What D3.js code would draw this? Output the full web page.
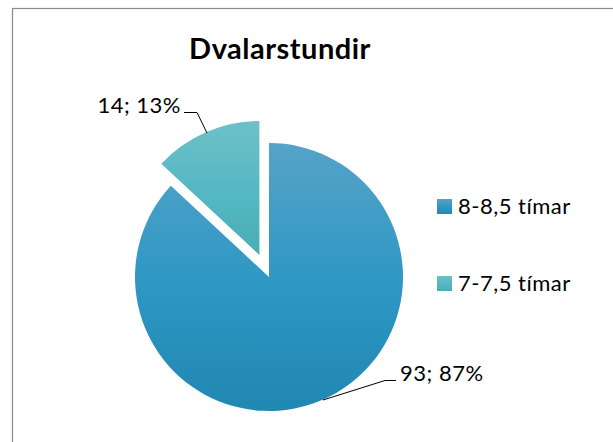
<!DOCTYPE html>
<html><head><meta charset="utf-8">
<script src="https://cdn.jsdelivr.net/npm/d3@7/dist/d3.min.js"></script>
<style>html,body{margin:0;padding:0;background:#fff;}svg{display:block;}</style>
</head><body>
<svg id="c" width="613" height="442"></svg>
<script>
const title = "Dvalarstundir";
const categories = ["8-8,5 tímar", "7-7,5 tímar"];
const values = [93, 14];
const percents = ["87%", "13%"];
const explode = [0, 24];

const svg = d3.select("#c");
const font = "Lato, 'Open Sans', sans-serif";

svg.append("rect").attr("x", 12.5).attr("y", 8.5).attr("width", 700).attr("height", 500)
  .attr("fill", "#fff").attr("stroke", "#8a8a8a").attr("stroke-width", 1.2);

const defs = svg.append("defs");
const grads = [["#56a3c8", "#2f98c4", "#2187b3"], ["#6ec0c8", "#56b8c4", "#48aeb4"]];
grads.forEach((g, i) => {
  const lg = defs.append("linearGradient").attr("id", "g" + i).attr("x1", 0).attr("y1", 0).attr("x2", 0).attr("y2", 1);
  lg.append("stop").attr("offset", "0%").attr("stop-color", g[0]);
  lg.append("stop").attr("offset", "50%").attr("stop-color", g[1]);
  lg.append("stop").attr("offset", "100%").attr("stop-color", g[2]);
});

const cx = 269, cy = 277, r = 134;
const pie = d3.pie().sort(null).value(d => d)(values);
const arc = d3.arc().innerRadius(0).outerRadius(r);

const g = svg.append("g").attr("transform", `translate(${cx},${cy})`);
pie.forEach((p, i) => {
  const mid = (p.startAngle + p.endAngle) / 2;
  const dx = Math.sin(mid) * explode[i], dy = -Math.cos(mid) * explode[i];
  g.append("path").attr("d", arc(p)).attr("transform", `translate(${dx},${dy})`)
    .attr("fill", `url(#g${i})`);
});

// title
svg.append("text").attr("x", 280).attr("y", 59).attr("text-anchor", "middle")
  .attr("font-family", font).attr("font-weight", "bold").attr("font-size", 29)
  .attr("letter-spacing", 0.5).attr("fill", "#000").text(title);

// data labels with leaders
const lbl = svg.append("g").attr("font-family", font).attr("font-size", 22).attr("letter-spacing", 0.5).attr("fill", "#000");
lbl.append("text").attr("x", 181).attr("y", 113).attr("text-anchor", "end").text(values[1] + "; " + percents[1]);
lbl.append("polyline").attr("points", "184,112.5 197,112.5 207,133").attr("fill", "none").attr("stroke", "#000").attr("stroke-width", 1);
lbl.append("text").attr("x", 400).attr("y", 381).text(values[0] + "; " + percents[0]);
lbl.append("polyline").attr("points", "396,380.5 385,380.5 323,400").attr("fill", "none").attr("stroke", "#000").attr("stroke-width", 1);

// legend
const leg = svg.append("g").attr("font-family", font).attr("font-size", 22).attr("letter-spacing", 0.5);
categories.forEach((c, i) => {
  const y = 199 + i * 77;
  leg.append("rect").attr("x", 437).attr("y", y).attr("width", 15).attr("height", 15).attr("fill", `url(#g${i})`);
  leg.append("text").attr("x", 458).attr("y", y + 15).attr("fill", "#000").text(c);
});
</script>
</body></html>
